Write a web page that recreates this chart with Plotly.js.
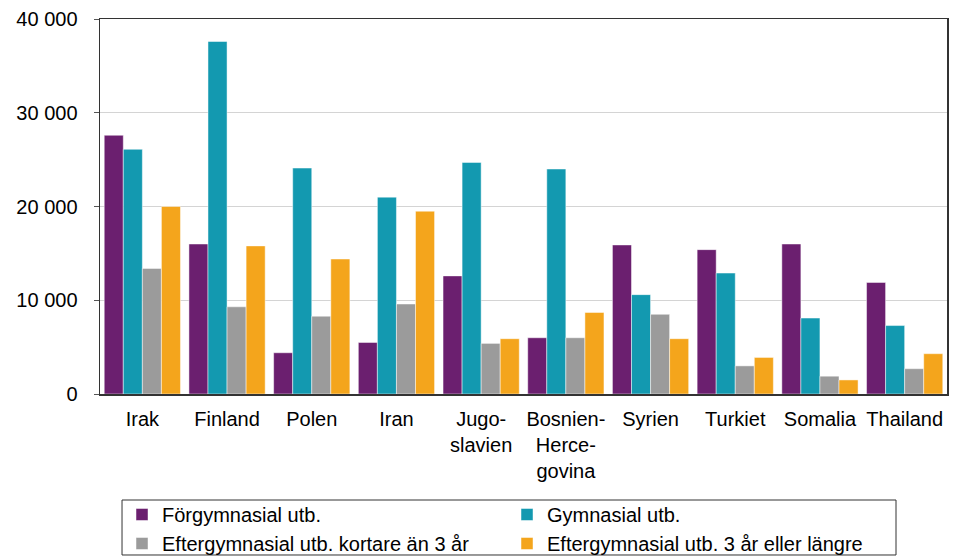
<!DOCTYPE html>
<html>
<head>
<meta charset="utf-8">
<script src="https://cdn.plot.ly/plotly-3.0.1.min.js"></script>
<style>html,body{margin:0;padding:0;background:#fff;}#chart{width:953px;height:559px;}</style>
</head>
<body>
<div id="chart"></div>
<script>
const countries = ["Irak", "Finland", "Polen", "Iran", "Jugo-<br>slavien", "Bosnien-<br>Herce-<br>govina", "Syrien", "Turkiet", "Somalia", "Thailand"];
const forgymnasial = [27600, 16000, 4400, 5500, 12600, 6000, 15900, 15400, 16000, 11900];
const gymnasial = [26100, 37600, 24100, 21000, 24700, 24000, 10600, 12900, 8100, 7300];
const eftergymKort = [13400, 9300, 8300, 9600, 5400, 6000, 8500, 3000, 1900, 2700];
const eftergymLang = [20000, 15800, 14400, 19500, 5900, 8700, 5900, 3900, 1500, 4300];
const seriesNames = ["Förgymnasial utb.", "Gymnasial utb.", "Eftergymnasial utb. kortare än 3 år", "Eftergymnasial utb. 3 år eller längre"];
const yTicks = [0, 10000, 20000, 30000, 40000];

const colors = ["#6B1F6F", "#1399B0", "#9B9B9B", "#F4A51C"];
const values = [forgymnasial, gymnasial, eftergymKort, eftergymLang];
const traces = values.map((v, i) => ({
  type: "bar",
  x: countries,
  y: v,
  name: seriesNames[i],
  marker: {color: colors[i], line: {color: "rgba(255,255,255,0.6)", width: 0.8}}
}));

const layout = {
  width: 953, height: 559,
  margin: {l: 100, r: 6, t: 19, b: 165, autoexpand: false},
  paper_bgcolor: "#fff", plot_bgcolor: "#fff",
  font: {family: "Liberation Sans, Arial, sans-serif", size: 20, color: "#000"},
  separators: ", ",
  barmode: "group",
  bargap: 0.1,
  bargroupgap: 0,
  showlegend: true,
  xaxis: {
    showline: true, linecolor: "#333", linewidth: 1.5, mirror: true,
    ticks: "", showgrid: false,
    ticklabelstandoff: 6,
    tickfont: {size: 20, color: "#000"}
  },
  yaxis: {
    range: [0, 40000],
    tickvals: yTicks,
    tickformat: ",d",
    showline: true, linecolor: "#333", linewidth: 1.5, mirror: true,
    ticks: "outside", ticklen: 5, tickcolor: "#555",
    ticklabelstandoff: 12,
    showgrid: true, gridcolor: "#d4d4d4", gridwidth: 1,
    zeroline: false,
    tickfont: {size: 20, color: "#000"}
  },
  legend: {
    orientation: "h",
    x: 0.026, xanchor: "left",
    y: -0.2693, yanchor: "top",
    entrywidth: 340,
    bgcolor: "rgba(0,0,0,0)",
    borderwidth: 0,
    font: {size: 20, color: "#000"},
    traceorder: "normal"
  },
  shapes: [{
    type: "rect", xref: "paper", yref: "paper",
    x0: 0.026, x1: 0.9398, y0: -0.4293, y1: -0.2827,
    line: {color: "#333", width: 1}, fillcolor: "rgba(0,0,0,0)", layer: "above"
  }]
};

Plotly.newPlot("chart", traces, layout, {displayModeBar: false, staticPlot: true});
</script>
</body>
</html>
